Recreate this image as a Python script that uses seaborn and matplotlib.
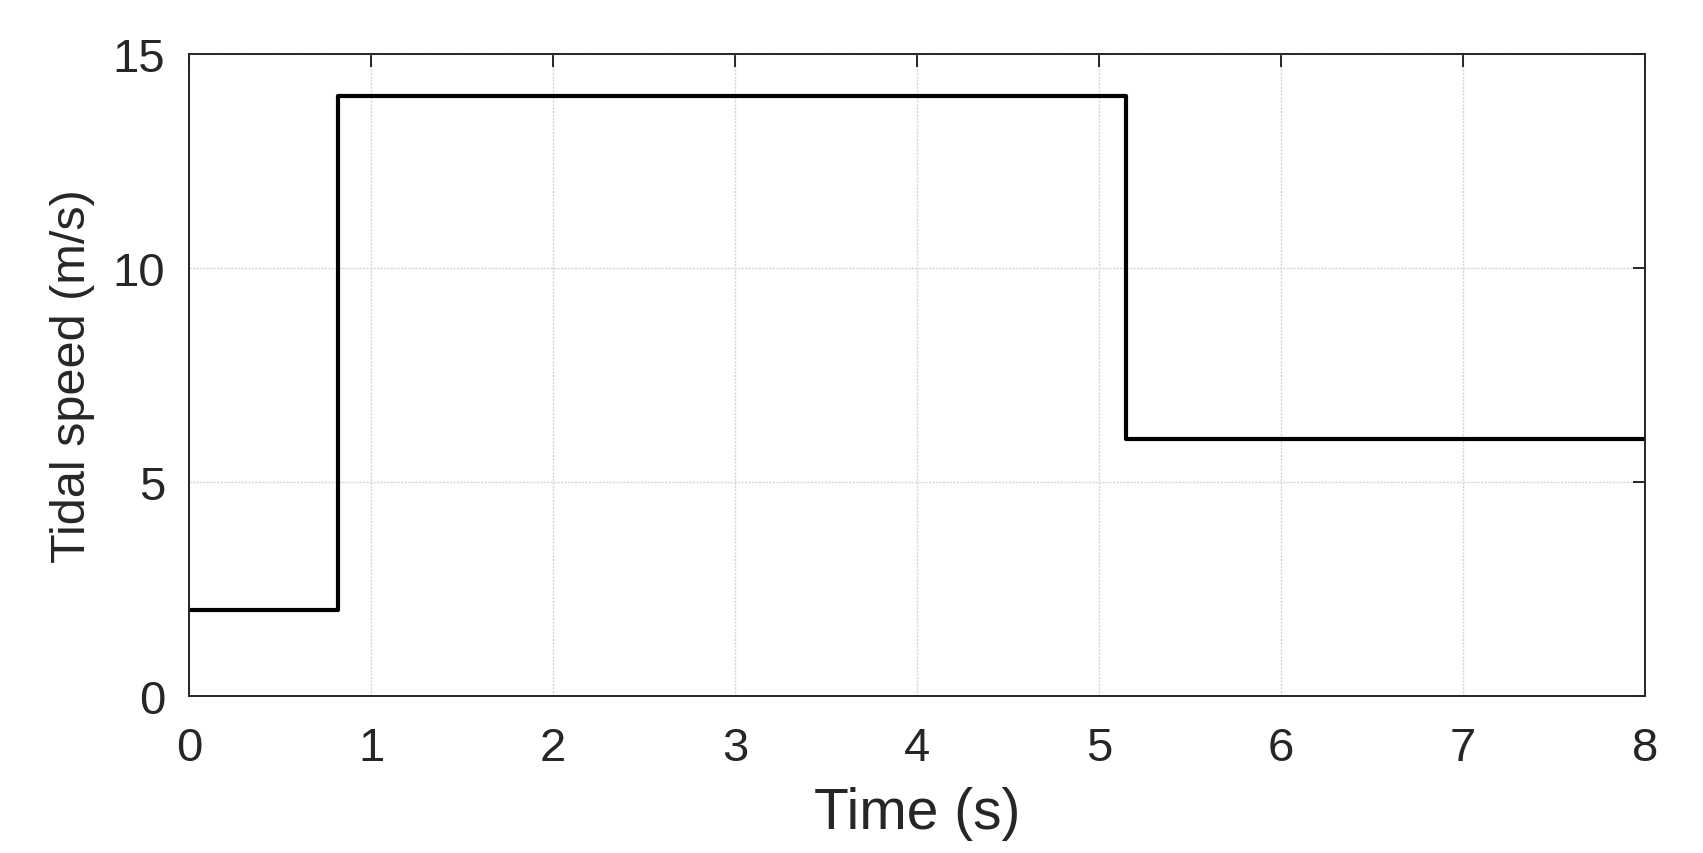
import matplotlib
matplotlib.use("Agg")
import matplotlib.pyplot as plt
import seaborn as sns
import pandas as pd

# step input: tidal speed over time
time_s = [0, 0.82, 5.15, 8]
speed_ms = [2, 14, 6, 6]

x_ticks = [0, 1, 2, 3, 4, 5, 6, 7, 8]
y_ticks = [0, 5, 10, 15]

df = pd.DataFrame({"Time (s)": time_s, "Tidal speed (m/s)": speed_ms})

sns.set_style("white")
plt.rcParams['font.family'] = ['Liberation Sans', 'DejaVu Sans']

fig = plt.figure(figsize=(17.03, 8.54), dpi=100)
ax = fig.add_axes([0.111, 0.184, 0.855, 0.752])

sns.lineplot(data=df, x="Time (s)", y="Tidal speed (m/s)", drawstyle="steps-post",
             color="black", linewidth=3.0, ax=ax)

ax.set_xlim(0, 8)
ax.set_ylim(0, 15)
ax.set_xticks(x_ticks)
ax.set_yticks(y_ticks)
ax.grid(True, color="#d4d4d4", linestyle=(0, (1.5, 1)), linewidth=1.0)

for s in ax.spines.values():
    s.set_color("#262626")
    s.set_linewidth(1.4)
ax.tick_params(direction="in", length=9, width=1.4, color="#262626",
               top=True, right=True, labelsize=34, labelcolor="#262626")
ax.tick_params(axis="x", pad=22)
ax.tick_params(axis="y", pad=17)
ax.set_xlabel("Time (s)", fontsize=41, color="#262626", labelpad=11)
ax.set_ylabel("Tidal speed (m/s)", fontsize=35, color="#262626", labelpad=13)

fig.savefig("out.png", dpi=100)
